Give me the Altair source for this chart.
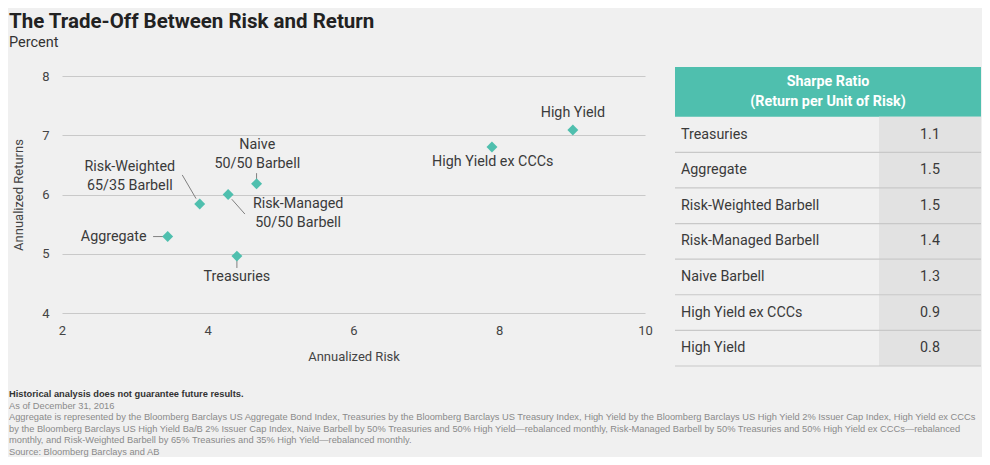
import altair as alt
import pandas as pd

TEAL = "#4fbfae"
TXT = "#3a3a3a"

# ---- titles ----
title_text = ["The Trade-Off Between Risk and Return"]
subtitle_text = ["Percent"]

# ---- scatter data ----
names = ["Aggregate", "Treasuries", "Risk-Weighted Barbell", "Risk-Managed Barbell",
         "Naive Barbell", "High Yield ex CCCs", "High Yield"]
risk = [3.45, 4.40, 3.89, 4.28, 4.67, 7.90, 9.01]
ret = [5.29, 4.96, 5.84, 6.00, 6.18, 6.80, 7.09]

# ---- annotation labels (data units; multi-line labels anchored at first line) ----
label_text = ["Aggregate", "Treasuries", "Risk-Weighted\n65/35 Barbell", "Risk-Managed\n50/50 Barbell",
              "Naive\n50/50 Barbell", "High Yield ex CCCs", "High Yield"]
label_x = [2.71, 4.40, 2.93, 5.24, 4.68, 7.91, 9.01]
label_y = [5.29, 4.61, 6.47, 5.84, 6.84, 6.55, 7.38]

# ---- leader lines (data units) ----
lead_x1 = [3.25, 4.40, 3.65, 4.33, 4.67]
lead_y1 = [5.29, 4.90, 6.33, 5.92, 6.36]
lead_x2 = [3.39, 4.40, 3.84, 4.51, 4.67]
lead_y2 = [5.29, 4.76, 5.93, 5.67, 6.22]

# ---- table ----
table_rows = ["Treasuries", "Aggregate", "Risk-Weighted Barbell", "Risk-Managed Barbell",
              "Naive Barbell", "High Yield ex CCCs", "High Yield"]
sharpe = ["1.1", "1.5", "1.5", "1.4", "1.3", "0.9", "0.8"]
table_header = ["Sharpe Ratio\n(Return per Unit of Risk)"]

# ---- footnotes ----
foot_lines = [
    "Historical analysis does not guarantee future results.",
    "As of December 31, 2016",
    "Aggregate is represented by the Bloomberg Barclays US Aggregate Bond Index, Treasuries by the Bloomberg Barclays US Treasury Index, High Yield by the Bloomberg Barclays US High Yield 2% Issuer Cap Index, High Yield ex CCCs",
    "by the Bloomberg Barclays US High Yield Ba/B 2% Issuer Cap Index, Naive Barbell by 50% Treasuries and 50% High Yield\u2014rebalanced monthly, Risk-Managed Barbell by 50% Treasuries and 50% High Yield ex CCCs\u2014rebalanced",
    "monthly, and Risk-Weighted Barbell by 65% Treasuries and 35% High Yield\u2014rebalanced monthly.",
    "Source: Bloomberg Barclays and AB",
]

pts = pd.DataFrame({"name": names, "risk": risk, "ret": ret})
labs = pd.DataFrame({"t": label_text, "x": label_x, "y": label_y})
leads = pd.DataFrame({"x1": lead_x1, "y1": lead_y1, "x2": lead_x2, "y2": lead_y2})

# ---------------- scatter ----------------
xs = alt.Scale(domain=[2, 10], nice=False, zero=False)
ys = alt.Scale(domain=[4, 8], nice=False, zero=False)

points = alt.Chart(pts).mark_point(shape="diamond", filled=True, size=120, color=TEAL, opacity=1).encode(
    x=alt.X("risk:Q", scale=xs, axis=alt.Axis(title="Annualized Risk", values=[2, 4, 6, 8, 10], format="d",
                                              grid=False, domain=False, ticks=False, labelFlush=False,
                                              labelPadding=11, titlePadding=13.5)),
    y=alt.Y("ret:Q", scale=ys, axis=alt.Axis(title="Annualized Returns", values=[4, 5, 6, 7, 8], format="d",
                                             grid=True, gridColor="#c9c9c9", domain=False, ticks=False,
                                             labelPadding=13, titlePadding=16)),
)
rules = alt.Chart(leads).mark_rule(color="#808080", strokeWidth=1).encode(
    x=alt.X("x1:Q", scale=xs), y=alt.Y("y1:Q", scale=ys), x2="x2:Q", y2="y2:Q")
texts = alt.Chart(labs).mark_text(lineBreak="\n", fontSize=14.3, lineHeight=19, color=TXT, baseline="middle").encode(
    x=alt.X("x:Q", scale=xs), y=alt.Y("y:Q", scale=ys), text="t:N")
scatter = alt.layer(rules, points, texts)

# ---------------- table (placed to the right of the plot area) ----------------
TL, TR, TSH = 613, 919, 817
hdr_df = pd.DataFrame({"h": table_header})
hdr_rect = alt.Chart(hdr_df).mark_rect(color=TEAL).encode(
    x=alt.value(TL), x2=alt.value(TR), y=alt.value(-9), y2=alt.value(40.7))
hdr_txt = alt.Chart(hdr_df).mark_text(lineBreak="\n", fontWeight="bold", color="white", fontSize=14.3,
                                      lineHeight=20, baseline="middle").encode(
    text="h:N", x=alt.value((TL + TR) / 2), y=alt.value(6))

body_df = pd.DataFrame({"row": table_rows, "val": sharpe})
ysc = alt.Scale(domain=table_rows, range=[40.7, 290], paddingInner=0, paddingOuter=0)
yenc = alt.Y("row:N", scale=ysc, axis=None, sort=table_rows)
shade = alt.Chart(body_df).mark_rect(color="#e2e2e2").encode(y=yenc, x=alt.value(TSH), x2=alt.value(TR))
seps = alt.Chart(body_df).mark_rule(color="#c8c8c8", strokeWidth=1.2).encode(
    y=alt.Y("row:N", scale=ysc, axis=None, sort=table_rows, bandPosition=1), x=alt.value(TL), x2=alt.value(TR))
row_txt = alt.Chart(body_df).mark_text(align="left", baseline="middle", fontSize=14.3, color=TXT).encode(
    y=yenc, x=alt.value(TL + 6), text="row:N")
val_txt = alt.Chart(body_df).mark_text(align="center", baseline="middle", fontSize=14.3, color=TXT).encode(
    y=yenc, x=alt.value((TSH + TR) / 2), text="val:N")
table = alt.layer(hdr_rect, shade, seps, row_txt, val_txt, hdr_txt)

# ---------------- footnotes ----------------
foot_df = pd.DataFrame({"i": list(range(len(foot_lines))), "t": foot_lines})
fy = alt.Y("i:O", axis=None, scale=alt.Scale(domain=list(range(len(foot_lines))), range=[312.5, 381.5],
                                             paddingInner=0, paddingOuter=0))
fbold = alt.Chart(foot_df).transform_filter(alt.datum.i == 0).mark_text(
    align="left", baseline="middle", font="Liberation Sans", fontSize=9.3, fontWeight="bold", color="#333333").encode(
    y=fy, x=alt.value(-53), text="t:N")
freg = alt.Chart(foot_df).transform_filter(alt.datum.i > 0).mark_text(
    align="left", baseline="middle", font="Liberation Sans", fontSize=9.3, color="#8a8a8a").encode(
    y=fy, x=alt.value(-53), text="t:N")
foot = alt.layer(fbold, freg)

# ---------------- titles ----------------
ttl = alt.Chart(pd.DataFrame({"t": title_text})).mark_text(
    align="left", baseline="top", fontSize=20.5, fontWeight="bold", color="#222222").encode(
    text="t:N", x=alt.value(-53), y=alt.value(-64))
sub = alt.Chart(pd.DataFrame({"t": subtitle_text})).mark_text(
    align="left", baseline="alphabetic", fontSize=14.5, color="#333333").encode(
    text="t:N", x=alt.value(-53), y=alt.value(-29.5))

chart = alt.layer(scatter, table, foot, ttl, sub).resolve_scale(
    x="independent", y="independent"
).properties(
    width=583, height=237,
    autosize=alt.AutoSizeParams(type="none"),
    padding={"left": 54, "top": 68, "right": 337, "bottom": 144},
).configure(
    background="#f0f0f0", font="Roboto"
).configure_view(stroke=None).configure_axis(
    labelFont="Roboto", titleFont="Roboto", labelFontSize=13, titleFontSize=13, labelColor="#444444",
    titleColor="#444444", titleFontWeight="normal"
)

chart.save("out.html", embed_options={"renderer": "svg", "actions": False})
